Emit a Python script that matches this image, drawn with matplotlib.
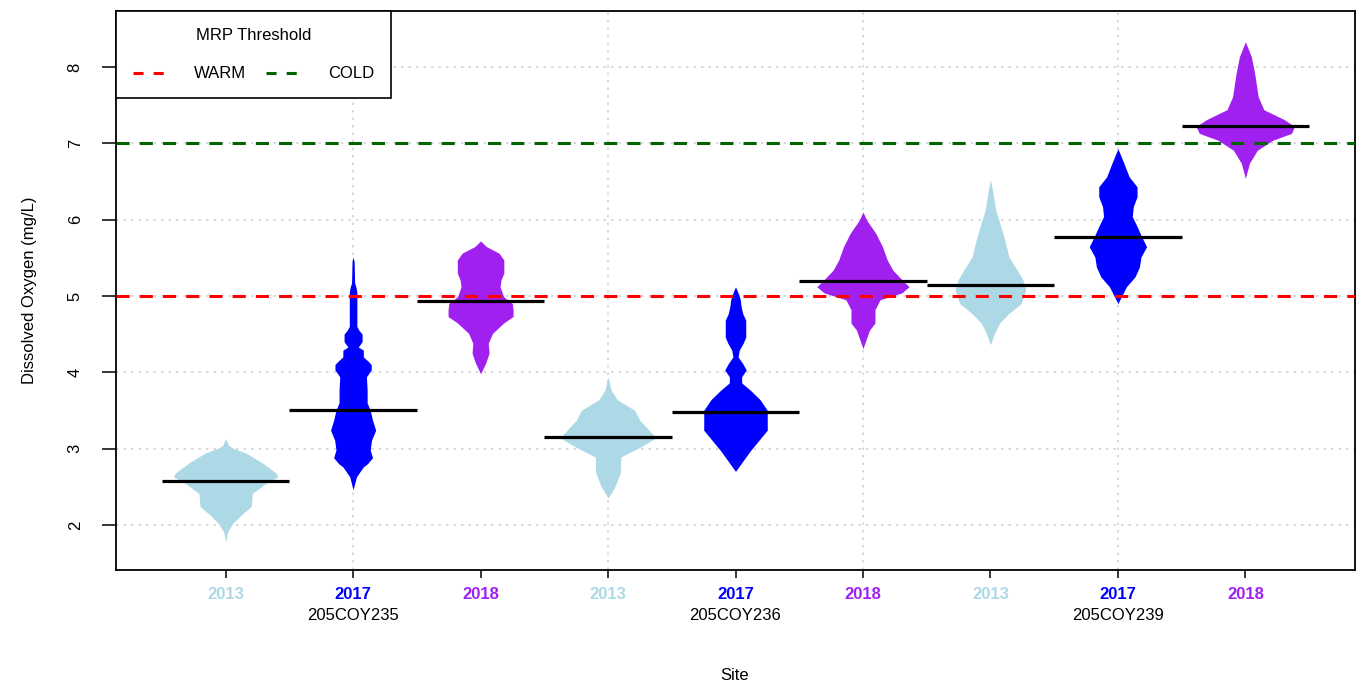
import numpy as np
import matplotlib
matplotlib.use("Agg")
import matplotlib.pyplot as plt
from matplotlib.lines import Line2D

plt.rcParams['font.family'] = ['Liberation Sans Narrow', 'Liberation Sans', 'DejaVu Sans']

# ---------------- data ----------------
years = ["2013", "2017", "2018", "2013", "2017", "2018", "2013", "2017", "2018"]
sites = ["205COY235", "205COY236", "205COY239"]
bean_colors = ["#ADD8E6", "#0000FF", "#A020F0"] * 3
means = [2.58, 3.51, 4.93, 3.15, 3.48, 5.19, 5.14, 5.77, 7.23]

# density profiles: (value, relative density)
prof_1 = ([3.13, 3.04, 3.00, 2.94, 2.81, 2.68, 2.63, 2.55, 2.41, 2.24, 2.15, 2.02, 1.91, 1.78],
          [0, 3, 8, 20, 36, 49, 51, 40, 26, 25, 17, 7, 2, 0])
prof_2 = ([5.51, 5.45, 5.17, 5.12, 5.05, 4.60, 4.55, 4.50, 4.40, 4.33, 4.29, 4.20, 4.14, 4.10,
           4.03, 3.94, 3.77, 3.60, 3.50, 3.37, 3.24, 3.11, 2.98, 2.88, 2.80, 2.76, 2.63, 2.46],
          [0, 1, 1.5, 2.7, 3.7, 3.7, 5.7, 8.8, 8.8, 5, 10, 10, 15, 17.7,
           17.7, 13, 13.7, 13.7, 16.7, 19, 22, 18, 16.7, 19, 14, 10, 3.3, 0])
prof_3 = ([5.72, 5.645, 5.56, 5.47, 5.30, 5.21, 5.12, 4.99, 4.90, 4.82, 4.73, 4.645, 4.51,
           4.38, 4.25, 4.12, 3.98],
          [0, 5.8, 18, 22.7, 22.7, 20, 19, 22.5, 31, 31.7, 31.7, 22.5, 11.7, 7.5, 8.3, 5, 0])
prof_4 = ([3.94, 3.85, 3.77, 3.64, 3.50, 3.37, 3.24, 3.14, 3.02, 2.89, 2.68, 2.50, 2.35],
          [0, 1.5, 2.8, 9, 26, 31, 40, 46.7, 31.7, 12.5, 12, 6.7, 0])
prof_5 = ([5.12, 5.04, 4.95, 4.86, 4.77, 4.68, 4.46, 4.38, 4.29, 4.20, 4.12, 4.03, 3.94, 3.86,
           3.77, 3.64, 3.50, 3.24, 3.11, 2.98, 2.85, 2.70],
          [0, 2.5, 4.7, 5.5, 7, 10, 10, 7.5, 3.7, 2.5, 6.7, 10.5, 6, 6,
           14, 24, 31, 31, 23, 15, 8, 0])
prof_6 = ([6.10, 5.99, 5.82, 5.645, 5.47, 5.34, 5.23, 5.12, 5.04, 4.95, 4.82, 4.73, 4.645,
           4.55, 4.31],
          [0, 3.7, 12.5, 19, 23.7, 29, 36.7, 45, 38, 16.7, 11.7, 11.7, 11.7, 6.3, 0])
prof_7 = ([6.52, 6.39, 6.13, 5.96, 5.73, 5.51, 5.34, 5.21, 5.08, 4.90, 4.77, 4.645, 4.51, 4.36],
          [0, 2, 5, 9, 14, 18, 26, 31.7, 34.5, 30, 18, 9, 4, 0])
prof_8 = ([6.93, 6.74, 6.56, 6.43, 6.30, 6.17, 6.04, 5.91, 5.78, 5.645, 5.51, 5.38, 5.25,
           5.12, 4.90],
          [0, 5.8, 11, 18.7, 18.7, 15, 14, 18.7, 23, 28, 22.5, 21, 16.7, 8.3, 0])
prof_9 = ([8.33, 8.135, 7.92, 7.61, 7.44, 7.31, 7.22, 7.13, 7.04, 6.91, 6.74, 6.54],
          [0, 5.8, 9, 12.5, 18, 38, 48, 45, 26.7, 11.7, 4, 0])
profiles = [prof_1, prof_2, prof_3, prof_4, prof_5, prof_6, prof_7, prof_8, prof_9]

warm_threshold = 5
cold_threshold = 7

# ---------------- figure ----------------
fig = plt.figure(figsize=(13.62, 6.86), dpi=100)
ax = fig.add_axes([116 / 1362, 1 - 570 / 686, (1355 - 116) / 1362, (570 - 11.5) / 686])
ax.set_xlim(0.14, 9.86)
ax.set_ylim(1.408, 8.727)

# grid
for gx in [2, 4, 6, 8]:
    ax.axvline(gx, color="#D3D3D3", ls=(0, (1.5, 3)), lw=1.2, zorder=0)
for gy in range(2, 9):
    ax.axhline(gy, color="#D3D3D3", ls=(0, (1.5, 3)), lw=1.2, zorder=0)

maxdens = max(max(p[1]) for p in profiles)
half = 0.41
for i, (vals, dens) in enumerate(profiles):
    pos = i + 1
    v = np.array(vals[::-1], dtype=float)
    d = np.array(dens[::-1], dtype=float) / maxdens
    yy = np.linspace(v.min(), v.max(), 400)
    dd = np.interp(yy, v, d)
    ax.fill_betweenx(yy, pos - half * dd, pos + half * dd, color=bean_colors[i],
                     lw=0, zorder=2)
    ax.plot([pos - 0.5, pos + 0.5], [means[i], means[i]], color="black", lw=2.3,
            solid_capstyle="butt", zorder=3)

ax.axhline(warm_threshold, color="#FF0000", lw=2.2, dashes=(4.3, 3.3), zorder=4)
ax.axhline(cold_threshold, color="#006400", lw=2.2, dashes=(4.3, 3.3), zorder=4)

# axes styling
for s in ax.spines.values():
    s.set_linewidth(1.3)
    s.set_color("black")

fs = 12
ax.set_xticks(range(1, 10))
ax.set_xticklabels(years, fontsize=fs, fontweight="bold")
for lbl, c in zip(ax.get_xticklabels(), bean_colors):
    lbl.set_color(c)
ax.tick_params(axis="x", length=6, width=1.1, pad=6)

ax.set_yticks(range(2, 9))
ax.set_yticklabels([str(k) for k in range(2, 9)], fontsize=fs, rotation=90, va="center")
ax.tick_params(axis="y", length=10, width=1.1, pad=14)

for k, s in enumerate(sites):
    ax.text(2 + 3 * k, -0.081, s, transform=ax.get_xaxis_transform(), ha="center",
            va="center", fontsize=fs, color="black")

fig.text(735 / 1362, 1 - 675 / 686, "Site", ha="center", va="center", fontsize=fs)
fig.text(30 / 1362, 1 - 290 / 686, "Dissolved Oxygen (mg/L)", ha="center", va="center",
         rotation=90, fontsize=fs)

handles = [Line2D([], [], color="#FF0000", lw=2.2, dashes=(3.3, 3.3)),
           Line2D([], [], color="#006400", lw=2.2, dashes=(3.3, 3.3))]
leg = ax.legend(handles, ["WARM", "COLD"], title="MRP Threshold", ncol=2,
                loc="upper left", borderaxespad=0, fancybox=False, framealpha=1,
                edgecolor="black", fontsize=fs, title_fontsize=fs,
                handlelength=2.3, handletextpad=1.4, columnspacing=1.2,
                borderpad=1.0, labelspacing=1.4)
leg.get_frame().set_linewidth(1.2)
leg.set_zorder(5)

fig.savefig("out.png", dpi=100)
